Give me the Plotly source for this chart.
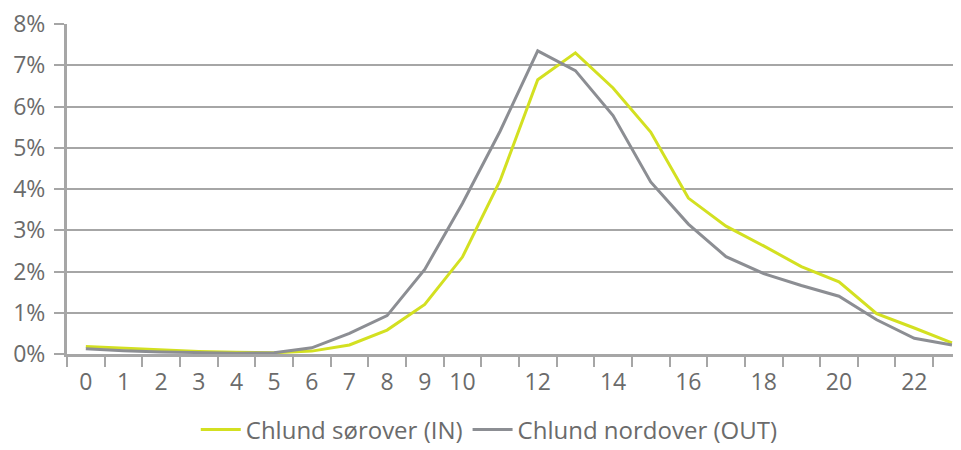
import plotly.graph_objects as go

hours = list(range(24))
sorover_in = [0.18, 0.14, 0.10, 0.06, 0.04, 0.03, 0.07, 0.22, 0.58, 1.20, 2.35, 4.20,
              6.65, 7.30, 6.45, 5.38, 3.78, 3.10, 2.62, 2.12, 1.75, 0.98, 0.63, 0.27]
nordover_out = [0.13, 0.08, 0.05, 0.03, 0.02, 0.03, 0.15, 0.50, 0.93, 2.05, 3.65, 5.40,
                7.35, 6.87, 5.78, 4.17, 3.15, 2.36, 1.95, 1.66, 1.40, 0.83, 0.38, 0.22]
x_tick_labels = ["0", "1", "2", "3", "4", "5", "6", "7", "8", "9", "10",
                 "12", "14", "16", "18", "20", "22"]
y_ticks = [0, 1, 2, 3, 4, 5, 6, 7, 8]

GRID = "#a6a6a6"
TEXT = "#6b6b6b"
FONT = "Open Sans"

fig = go.Figure()
fig.add_trace(go.Scatter(x=hours, y=sorover_in, mode="lines", name="Chlund sørover (IN)",
                         line=dict(color="#d3e021", width=3)))
fig.add_trace(go.Scatter(x=hours, y=nordover_out, mode="lines", name="Chlund nordover (OUT)",
                         line=dict(color="#8c8e93", width=3)))

# page body has an 8px margin: offset the margins so the plot sits where the reference has it
fig.update_layout(
    width=953, height=450,
    margin=dict(l=59, r=0, t=16, b=104),
    paper_bgcolor="white", plot_bgcolor="white",
    font=dict(family=FONT, size=23, color=TEXT),
    showlegend=True,
    legend=dict(orientation="h", xref="container", yref="container",
                x=0.505, xanchor="center", y=1 - 422 / 450, yanchor="middle",
                bgcolor="rgba(0,0,0,0)",
                font=dict(size=24, color=TEXT), itemwidth=40),
    xaxis=dict(
        range=[-0.5, 23.24], showgrid=False, zeroline=False,
        tickmode="array",
        tickvals=[int(t) for t in x_tick_labels], ticktext=x_tick_labels,
        ticks="", ticklabelstandoff=5,
        showline=True, linecolor=GRID, linewidth=3,
        minor=dict(tickmode="array", tickvals=[h - 0.5 for h in hours] + [23.5],
                   ticks="outside", ticklen=10, tickcolor=GRID, tickwidth=2),
    ),
    yaxis=dict(
        range=[0, 8], tickmode="array", tickvals=y_ticks,
        ticktext=[f"{v}%" for v in y_ticks],
        showgrid=True, gridcolor=GRID, gridwidth=2, zeroline=False,
        showline=True, linecolor=GRID, linewidth=3,
        ticks="outside", ticklen=10, tickcolor=GRID, tickwidth=2,
        ticklabelstandoff=4, ticklabeloverflow="allow",
    ),
)

fig.write_html("out.html")
